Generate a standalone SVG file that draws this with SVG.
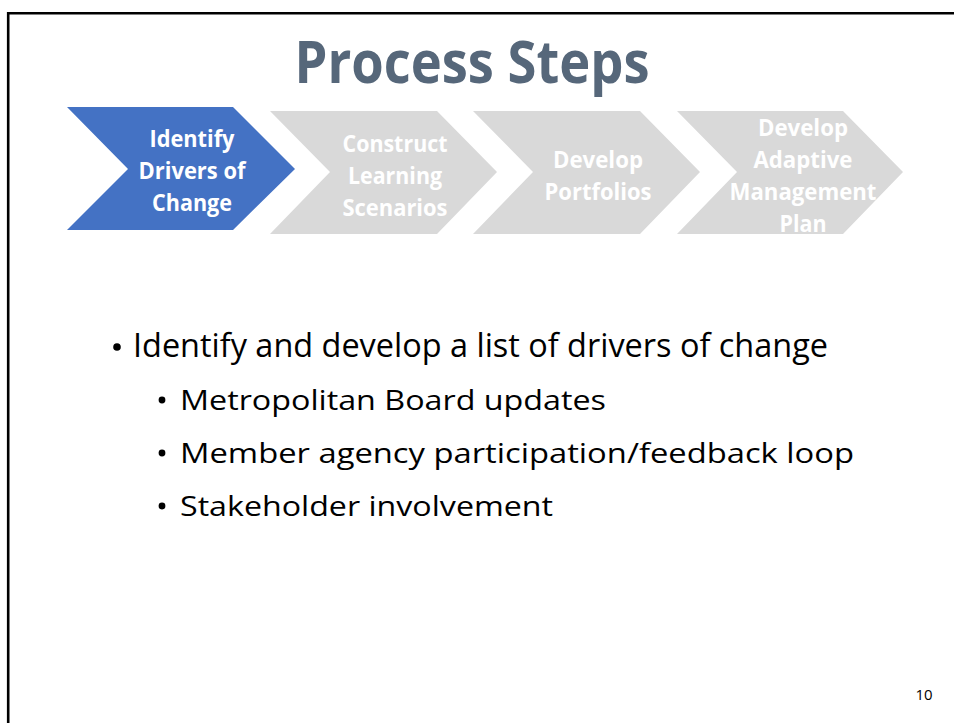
<svg xmlns="http://www.w3.org/2000/svg" width="954" height="723" viewBox="0 0 954 723">
<style>
.chev-on{fill:#4472C4}
.chev-off{fill:#D9D9D9}
.lbl{font-family:"Open Sans","Liberation Sans",sans-serif;font-weight:bold;font-size:24px;fill:#FFFFFF;text-anchor:middle}
.body{font-family:"Open Sans","Liberation Sans",sans-serif;fill:#000000}
.l1{font-size:32px}
.l2{font-size:28px}
</style>
<rect x="0" y="0" width="954" height="723" fill="#FFFFFF"/>
<path d="M8.2,730 V13.2 H960" fill="none" stroke="#000000" stroke-width="2.6"/>
<text x="472" y="83" font-family="'Open Sans','Liberation Sans',sans-serif" font-weight="bold" font-size="59" fill="#56677A" text-anchor="middle" textLength="355" lengthAdjust="spacingAndGlyphs">Process Steps</text>
<g id="connectors"></g>
<g id="step1">
<polygon class="chev-on" points="67,107 233,107 295,169 233,230 67,230 128,169"/>
<text class="lbl" x="192" y="147" textLength="85" lengthAdjust="spacingAndGlyphs">Identify</text>
<text class="lbl" x="192" y="179" textLength="107" lengthAdjust="spacingAndGlyphs">Drivers of</text>
<text class="lbl" x="192" y="211" textLength="80" lengthAdjust="spacingAndGlyphs">Change</text>
</g>
<g id="step2">
<polygon class="chev-off" points="270,111 437,111 497,172 437,234 270,234 330,172"/>
<text class="lbl" x="395" y="152" textLength="105" lengthAdjust="spacingAndGlyphs">Construct</text>
<text class="lbl" x="395" y="184" textLength="94" lengthAdjust="spacingAndGlyphs">Learning</text>
<text class="lbl" x="395" y="216" textLength="105" lengthAdjust="spacingAndGlyphs">Scenarios</text>
</g>
<g id="step3">
<polygon class="chev-off" points="473,111 640,111 700,172 640,234 473,234 533,172"/>
<text class="lbl" x="598" y="168" textLength="90" lengthAdjust="spacingAndGlyphs">Develop</text>
<text class="lbl" x="598" y="200" textLength="107" lengthAdjust="spacingAndGlyphs">Portfolios</text>
</g>
<g id="step4">
<polygon class="chev-off" points="677,111 843,111 903,172 843,234 677,234 737,172"/>
<text class="lbl" x="803" y="136" textLength="90" lengthAdjust="spacingAndGlyphs">Develop</text>
<text class="lbl" x="803" y="168" textLength="99" lengthAdjust="spacingAndGlyphs">Adaptive</text>
<text class="lbl" x="803" y="200" textLength="147" lengthAdjust="spacingAndGlyphs">Management</text>
<text class="lbl" x="803" y="232" textLength="47" lengthAdjust="spacingAndGlyphs">Plan</text>
</g>
<g id="bullets">
<circle cx="117" cy="347" r="3.8" fill="#000000"/>
<text class="body l1" x="133" y="357" textLength="695" lengthAdjust="spacingAndGlyphs">Identify and develop a list of drivers of change</text>
<circle cx="162" cy="400" r="3.4" fill="#000000"/>
<text class="body l2" x="180" y="410" textLength="426" lengthAdjust="spacingAndGlyphs">Metropolitan Board updates</text>
<circle cx="162" cy="453" r="3.4" fill="#000000"/>
<text class="body l2" x="180" y="463" textLength="674" lengthAdjust="spacingAndGlyphs">Member agency participation/feedback loop</text>
<circle cx="162" cy="506" r="3.4" fill="#000000"/>
<text class="body l2" x="180" y="516" textLength="373" lengthAdjust="spacingAndGlyphs">Stakeholder involvement</text>
</g>
<text x="924" y="700" font-family="'Open Sans','Liberation Sans',sans-serif" font-size="15" fill="#000000" text-anchor="middle">10</text>
</svg>
